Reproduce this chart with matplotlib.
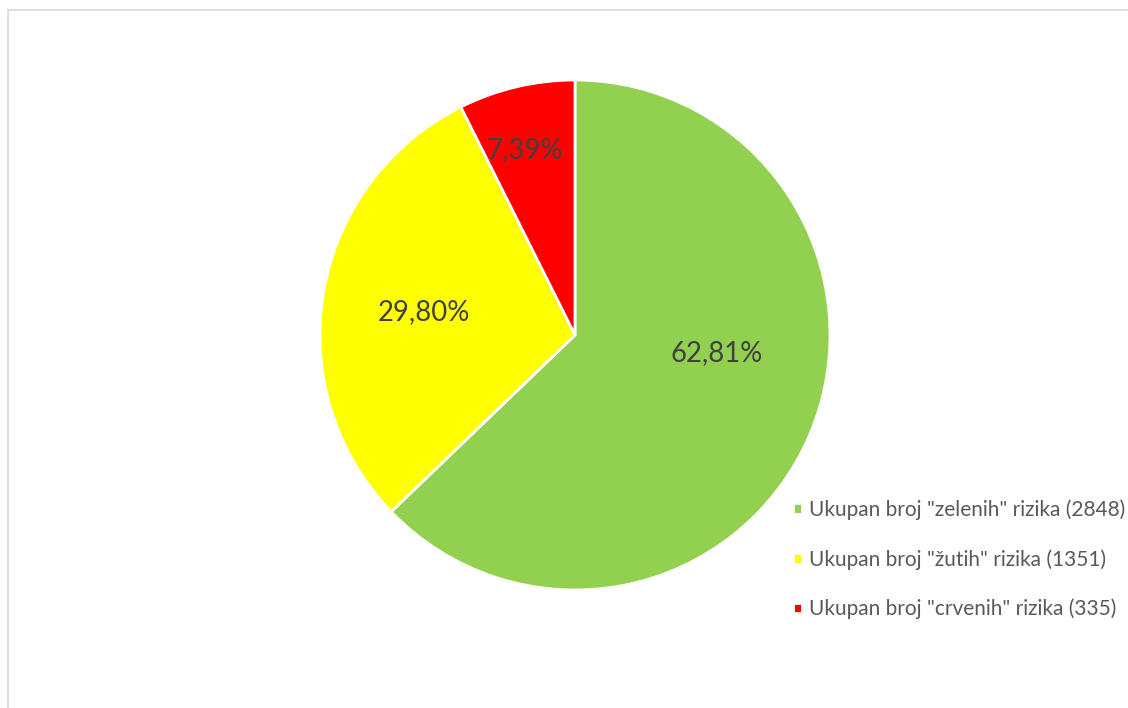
import matplotlib
matplotlib.use("Agg")
import matplotlib.pyplot as plt
import numpy as np
from matplotlib.patches import Rectangle

# podaci
counts = [2848, 1351, 335]
labels = ['Ukupan broj "zelenih" rizika (2848)',
          'Ukupan broj "žutih" rizika (1351)',
          'Ukupan broj "crvenih" rizika (335)']
colors = ["#92D050", "#FFFF00", "#FF0000"]

plt.rcParams["font.family"] = ["Lato", "DejaVu Sans"]

W, H = 1128, 708
fig = plt.figure(figsize=(W / 100, H / 100), dpi=100)

# okvir grafikona
fig.patches.append(Rectangle((8 / W, -0.1), 1.2, 1 - 10 / H + 0.1, transform=fig.transFigure,
                             fill=False, edgecolor="#D9D9D9", linewidth=1.2))

cx, cy, r = 575, 335, 255
ax = fig.add_axes([(cx - r) / W, (H - cy - r) / H, 2 * r / W, 2 * r / H])
wedges, _ = ax.pie(counts, colors=colors, startangle=90, counterclock=False, radius=1,
                   wedgeprops=dict(edgecolor="white", linewidth=2.0))
ax.set_xlim(-1, 1)
ax.set_ylim(-1, 1)
ax.set_aspect("equal")
ax.axis("off")

total = sum(counts)
label_r = [0.56, 0.6, 0.75]
label_shift = [16, 1, 2]
for w, c, lr, sh in zip(wedges, counts, label_r, label_shift):
    ang = np.deg2rad((w.theta1 + w.theta2) / 2 + sh)
    txt = f"{100 * c / total:.2f}%".replace(".", ",")
    ax.text(lr * np.cos(ang), lr * np.sin(ang), txt, ha="center", va="center",
            fontsize=19.8, color="#404040")

fig.legend(wedges, labels, loc="upper left", bbox_to_anchor=(785 / W, 1 - 491 / H),
           frameon=False, fontsize=15, labelcolor="#595959", handlelength=0.4,
           handleheight=0.4, handletextpad=0.35, labelspacing=1.4, borderaxespad=0)

fig.savefig("out.png", dpi=100)
